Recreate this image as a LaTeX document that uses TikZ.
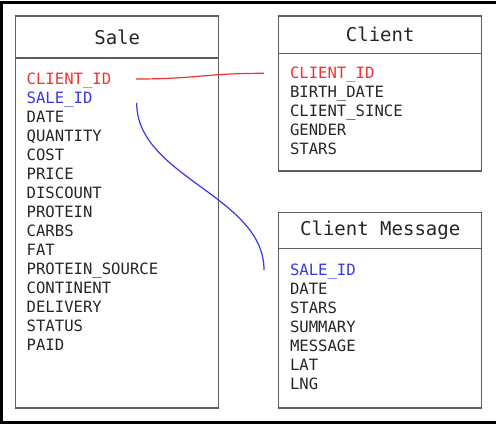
\documentclass[tikz,border=0pt]{standalone}
\usepackage{fontspec}
\newfontfamily\monofont{DejaVu Sans Mono}
\usepackage{xcolor}
\definecolor{TableInk}{HTML}{262626}
\definecolor{TableEdge}{HTML}{5F5F5F}
\definecolor{KeyRed}{HTML}{EE3333}
\definecolor{KeyBlue}{HTML}{3838E6}
\usepackage{tikz}
\usetikzlibrary{positioning}
\tikzset{
  thead/.style={draw=TableEdge,line width=1.2pt,minimum width=203pt,inner sep=0pt,outer sep=0pt,font=\monofont\fontsize{19}{22}\selectfont,text=TableInk},
  tbody/.style={draw=TableEdge,line width=1.2pt,minimum width=203pt,inner sep=0pt,outer sep=0pt},
  tfield/.style={inner sep=0pt,outer sep=0pt,text width=180pt,align=left,text height=15pt,text depth=4pt,font=\monofont\fontsize{15.6}{19}\selectfont,text=TableInk},
  redlink/.style={draw=KeyRed,line width=1.2pt},
  bluelink/.style={draw=KeyBlue,line width=1.2pt},
  outerframe/.style={draw=black,line width=2.6pt}
}

\begin{document}
\begin{tikzpicture}[x=1pt,y=-1pt,node distance=0pt]
  \useasboundingbox (0,0) rectangle (496,424);
  \draw[outerframe] (497,2.2) -- (1.5,2.2) -- (1.5,422.3) -- (497,422.3);

  % Sale table
  \node[thead,minimum height=42pt] (sale-head) at (117.2,37) {Sale};
  \node[tbody,minimum height=350pt,below=of sale-head] (sale-body) {};
  \node[tfield,text=KeyRed,anchor=west] (sale-cid) at ([shift={(11pt,-21pt)}]sale-body.north west) {CLIENT\_ID};
  \node[tfield,text=KeyBlue,below=of sale-cid] (sale-sid) {SALE\_ID};
  \node[tfield,below=of sale-sid] (sale-date) {DATE};
  \node[tfield,below=of sale-date] (sale-qty) {QUANTITY};
  \node[tfield,below=of sale-qty] (sale-cost) {COST};
  \node[tfield,below=of sale-cost] (sale-price) {PRICE};
  \node[tfield,below=of sale-price] (sale-disc) {DISCOUNT};
  \node[tfield,below=of sale-disc] (sale-prot) {PROTEIN};
  \node[tfield,below=of sale-prot] (sale-carbs) {CARBS};
  \node[tfield,below=of sale-carbs] (sale-fat) {FAT};
  \node[tfield,below=of sale-fat] (sale-src) {PROTEIN\_SOURCE};
  \node[tfield,below=of sale-src] (sale-cont) {CONTINENT};
  \node[tfield,below=of sale-cont] (sale-deliv) {DELIVERY};
  \node[tfield,below=of sale-deliv] (sale-status) {STATUS};
  \node[tfield,below=of sale-status] (sale-paid) {PAID};

  % Client table
  \node[thead,minimum height=37.3pt,anchor=north west] (client-head) at ([xshift=60pt]sale-head.north east) {Client};
  \node[tbody,minimum height=117.7pt,below=of client-head] (client-body) {};
  \node[tfield,text=KeyRed,anchor=west] (client-cid) at ([shift={(11.3pt,-20pt)}]client-body.north west) {CLIENT\_ID};
  \node[tfield,below=of client-cid] (client-birth) {BIRTH\_DATE};
  \node[tfield,below=of client-birth] (client-since) {CLIENT\_SINCE};
  \node[tfield,below=of client-since] (client-gender) {GENDER};
  \node[tfield,below=of client-gender] (client-stars) {STARS};

  % Client Message table
  \node[thead,minimum height=36pt,below=41.7pt of client-body] (msg-head) {Client Message};
  \node[tbody,minimum height=159.3pt,below=of msg-head] (msg-body) {};
  \node[tfield,text=KeyBlue,anchor=west] (msg-sid) at ([shift={(11.3pt,-21.3pt)}]msg-body.north west) {SALE\_ID};
  \node[tfield,below=of msg-sid] (msg-date) {DATE};
  \node[tfield,below=of msg-date] (msg-stars) {STARS};
  \node[tfield,below=of msg-stars] (msg-summary) {SUMMARY};
  \node[tfield,below=of msg-summary] (msg-message) {MESSAGE};
  \node[tfield,below=of msg-message] (msg-lat) {LAT};
  \node[tfield,below=of msg-lat] (msg-lng) {LNG};

  % key links
  \draw[redlink] ([xshift=109.3pt]sale-cid.west) .. controls +(60pt,0) and +(-60pt,0) .. ([xshift=-26pt]client-cid.west);
  \draw[bluelink] ([shift={(110pt,-5pt)}]sale-sid.west) .. controls +(0,-74pt) and +(0,74pt) .. ([xshift=-26pt]msg-sid.west);
\end{tikzpicture}
\end{document}
